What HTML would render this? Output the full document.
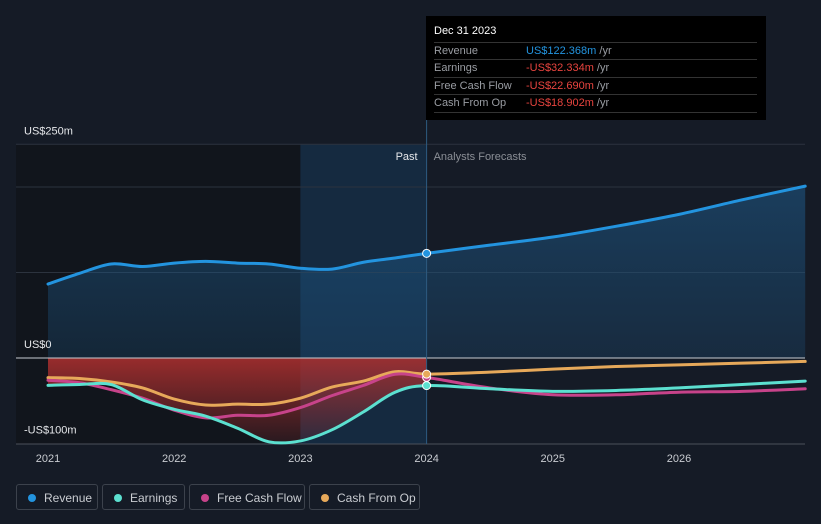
<!DOCTYPE html>
<html><head><meta charset="utf-8">
<style>
body{margin:0;background:#151b26;font-family:"Liberation Sans",sans-serif;}
#wrap{position:relative;width:821px;height:524px;overflow:hidden;background:#151b26;}
svg{position:absolute;left:0;top:0;}
.leg{position:absolute;top:484px;height:26px;border:1px solid #3c424c;border-radius:3px;color:#c9ccd1;font-size:12px;line-height:26px;box-sizing:border-box;padding-left:27px;}
.leg i{position:absolute;left:11px;top:9px;width:8px;height:8px;border-radius:50%;}
#tip{position:absolute;left:426px;top:16px;width:340px;height:104px;background:#000;color:#fff;font-size:11px;}
#tip .row{position:absolute;left:8px;width:323px;border-top:1px solid #333;height:17px;line-height:17px;color:#9a9da3;}
#tip .v{position:absolute;left:92px;}
</style></head><body>
<div id="wrap">
<svg id="chart" width="821" height="524">
<defs>
<linearGradient id="revg" x1="0" y1="0" x2="0" y2="1"><stop offset="0" stop-color="#1e5a8a" stop-opacity="0.55"/><stop offset="1" stop-color="#1e5a8a" stop-opacity="0.25"/></linearGradient>
<linearGradient id="negg" x1="0" y1="0" x2="0" y2="1"><stop offset="0" stop-color="#b0302f" stop-opacity="0.85"/><stop offset="1" stop-color="#b0302f" stop-opacity="0.15"/></linearGradient>
</defs>
</svg>
<div id="tip">
<div style="position:absolute;left:8px;top:9px;font-size:11px;color:#fff">Dec 31 2023</div>
<div class="row" style="top:26px">Revenue<span class="v"><span style="color:#2394df">US$122.368m</span> /yr</span></div>
<div class="row" style="top:43px">Earnings<span class="v"><span style="color:#e8443f">-US$32.334m</span> /yr</span></div>
<div class="row" style="top:61px">Free Cash Flow<span class="v"><span style="color:#e8443f">-US$22.690m</span> /yr</span></div>
<div class="row" style="top:78px;border-bottom:1px solid #333">Cash From Op<span class="v"><span style="color:#e8443f">-US$18.902m</span> /yr</span></div>
</div>
<div class="leg" style="left:16px;width:82px"><i style="background:#2394df"></i>Revenue</div>
<div class="leg" style="left:102px;width:83px"><i style="background:#5ce0d0"></i>Earnings</div>
<div class="leg" style="left:189px;width:116px"><i style="background:#c7438a"></i>Free Cash Flow</div>
<div class="leg" style="left:309px;width:111px"><i style="background:#e7a95a"></i>Cash From Op</div>
</div>
<script>
const years=[2021,2021.25,2021.5,2021.75,2022,2022.25,2022.5,2022.75,2023,2023.25,2023.5,2023.75,2024,2024.5,2025,2025.5,2026,2026.5,2027];
const revenue=[86.5,99,110,107,111,113,111,110,105,104,112,117,122.4,132,141.5,154,168,185,201];
const earnings=[-32,-31,-31,-49,-60,-68,-82,-98,-97,-84,-63,-40,-32.3,-36,-39,-38,-35,-31,-27];
const fcf=[-26,-29,-37,-47,-61,-70,-67,-67,-58,-44,-32,-19,-22.7,-35,-43,-43,-40,-39,-36];
const cfo=[-23,-24,-28,-35,-48,-55,-54,-54,-47,-34,-27,-16,-18.9,-16.5,-13,-10,-8,-6,-4];
const xTicks=[2021,2022,2023,2024,2025,2026];
const yTicks=[250,0,-100];
const yTickLabels=["US$250m","US$0","-US$100m"];
const gridVals=[250,200,100];
const nowYear=2024;
const X=y=>48+(y-2021)*126.2;
const Y=v=>358-v*0.855;
const NS="http://www.w3.org/2000/svg";
const svg=document.getElementById('chart');
function mk(t,a){const e=document.createElementNS(NS,t);for(const k in a)e.setAttribute(k,a[k]);svg.appendChild(e);return e;}
function path(xs,vs){const P=xs.map((x,i)=>[X(x),Y(vs[i])]);let d='M'+P[0][0]+','+P[0][1];for(let i=0;i<P.length-1;i++){const p0=P[Math.max(0,i-1)],p1=P[i],p2=P[i+1],p3=P[Math.min(P.length-1,i+2)];const c1x=p1[0]+(p2[0]-p0[0])/6,c1y=p1[1]+(p2[1]-p0[1])/6,c2x=p2[0]-(p3[0]-p1[0])/6,c2y=p2[1]-(p3[1]-p1[1])/6;d+=' C'+c1x+','+c1y+' '+c2x+','+c2y+' '+p2[0]+','+p2[1];}return d;}
let r=mk('rect',{x:16,y:144,width:X(2023)-16,height:300,fill:'#11151c'});

r=mk('rect',{x:X(2023),y:144,width:X(nowYear)-X(2023),height:300,fill:'#15304a',opacity:0.75});

gridVals.forEach(v=>{const g=mk('line',{x1:16,x2:805,y1:Y(v),y2:Y(v),stroke:'#2c333e','stroke-width':1});});
let a=mk('path',{d:path(years,revenue)+' L'+X(2027)+','+Y(0)+' L'+X(2021)+','+Y(0)+'Z',fill:'url(#revg)'});

const pi=years.indexOf(nowYear);
const py=years.slice(0,pi+1);
a=mk('path',{d:path(py,earnings.slice(0,pi+1))+' L'+X(nowYear)+','+Y(0)+' L'+X(2021)+','+Y(0)+'Z',fill:'url(#negg)'});

let l=mk('line',{x1:16,x2:805,y1:Y(0),y2:Y(0),stroke:'#c8ccd2','stroke-width':1});

l=mk('line',{x1:16,x2:805,y1:444,y2:444,stroke:'#4a505a','stroke-width':1});

l=mk('line',{x1:X(nowYear),x2:X(nowYear),y1:120,y2:444,stroke:'#2d5a80','stroke-width':1});

const series=[['cash-from-op-line',cfo,'#e7a95a'],['free-cash-flow-line',fcf,'#c7438a'],['earnings-line',earnings,'#5ce0d0'],['revenue-line',revenue,'#2394df']];
series.forEach(s=>{const p=mk('path',{d:path(years,s[1]),fill:'none',stroke:s[2],'stroke-width':3,'stroke-linecap':'round'});});
[[revenue,'#2394df','revenue-marker'],[earnings,'#5ce0d0','earnings-marker'],[fcf,'#c7438a','fcf-marker'],[cfo,'#e7a95a','cfo-marker']].forEach(s=>{const c=mk('circle',{cx:X(nowYear),cy:Y(s[0][pi]),r:4,fill:s[1],stroke:'#fff','stroke-width':1});});
xTicks.forEach(t=>{const e=mk('text',{x:X(t),y:462,fill:'#c9ccd1','font-size':11,'text-anchor':'middle'});e.textContent=t;});
yTicks.forEach((t,i)=>{const e=mk('text',{x:24,y:Y(t)-10,fill:'#e6e8eb','font-size':11});e.textContent=yTickLabels[i];});
let e=mk('text',{x:X(nowYear)-9,y:160,fill:'#e6e8eb','font-size':11,'text-anchor':'end'});e.textContent='Past';

e=mk('text',{x:X(nowYear)+7,y:160,fill:'#8b8f96','font-size':11});e.textContent='Analysts Forecasts';

</script>
</body></html>
